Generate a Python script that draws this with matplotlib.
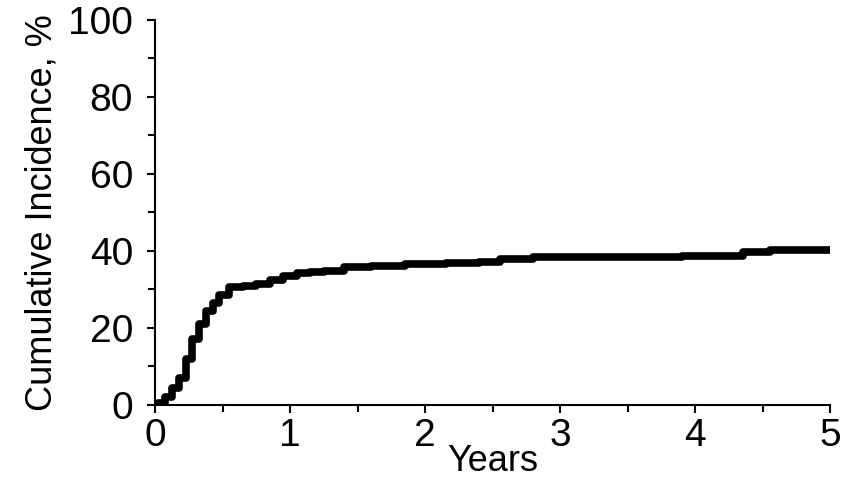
import matplotlib
matplotlib.use("Agg")
import matplotlib.pyplot as plt
from matplotlib.ticker import MultipleLocator

years = [0.0, 0.05, 0.1, 0.15, 0.2, 0.25, 0.3, 0.35, 0.4, 0.45, 0.5, 0.6, 0.7, 0.8, 0.9, 1.0, 1.1, 1.2, 1.3, 1.5, 1.7, 2.0, 2.3, 2.5, 2.6, 3.0, 3.5, 4.3, 4.4, 4.7, 5.0]
incidence = [0.0, 0.5, 2.0, 4.5, 7.0, 12.0, 17.0, 21.0, 24.5, 26.5, 28.5, 30.5, 31.0, 31.5, 32.5, 33.5, 34.2, 34.5, 34.8, 35.8, 36.1, 36.5, 36.8, 37.2, 38.0, 38.3, 38.5, 38.7, 39.6, 40.2, 40.3]

plt.rcParams['font.family'] = ['Liberation Sans', 'DejaVu Sans']
fig = plt.figure(figsize=(8.57, 4.98), dpi=100)
ax = fig.add_axes([0.181, 0.187, 0.788, 0.773])
ax.step(years, incidence, where='mid', color='black', lw=5.5, solid_capstyle='round', solid_joinstyle='round')
ax.set_xlim(0, 5)
ax.set_ylim(0, 100)
ax.xaxis.set_major_locator(MultipleLocator(1))
ax.xaxis.set_minor_locator(MultipleLocator(0.5))
ax.yaxis.set_major_locator(MultipleLocator(20))
ax.yaxis.set_minor_locator(MultipleLocator(10))
ax.tick_params(which='both', direction='out', width=1.5, labelsize=28)
ax.tick_params(which='major', length=6)
ax.tick_params(which='minor', length=5)
ax.tick_params(axis='y', pad=10)
for s in ['top', 'right']:
    ax.spines[s].set_visible(False)
for s in ['left', 'bottom']:
    ax.spines[s].set_linewidth(1.5)
ax.set_xlabel('Years', fontsize=26, labelpad=-7)
ax.set_ylabel('Cumulative Incidence, %', fontsize=26, labelpad=6)
fig.savefig('out.png')
